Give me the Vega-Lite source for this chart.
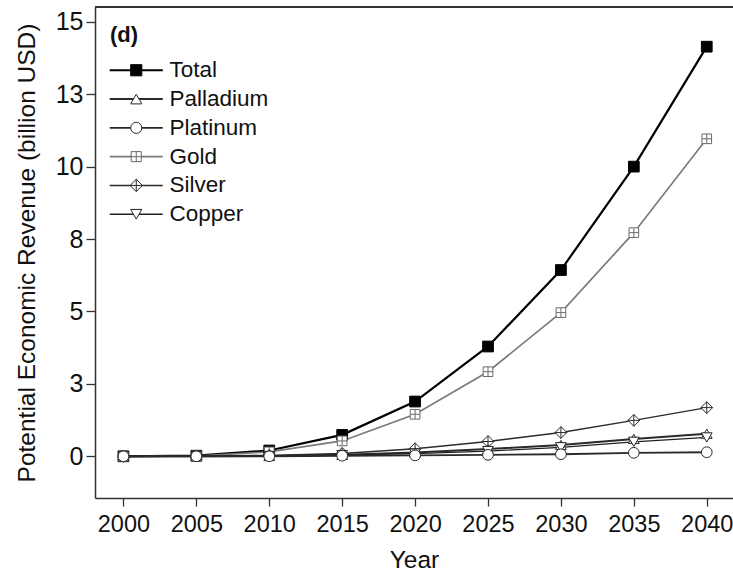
{
  "$schema": "https://vega.github.io/schema/vega-lite/v6.json",
  "width": 638,
  "height": 491,
  "autosize": "none",
  "padding": {"left": 95, "top": 7, "right": 0, "bottom": 78},
  "background": "white",
  "config": {
    "view": {"stroke": null},
    "font": "Liberation Sans",
    "axis": {
      "domainColor": "#333333",
      "domainWidth": 1.5,
      "tickColor": "#333333",
      "tickWidth": 1.3,
      "labelColor": "#111111",
      "titleColor": "#111111",
      "labelFont": "Liberation Sans",
      "titleFont": "Liberation Sans",
      "titleFontWeight": "normal",
      "grid": false
    }
  },
  "data": {
    "values": [
      {"Year": 2000, "Metal": "Total", "Value": 0},
      {"Year": 2005, "Metal": "Total", "Value": 0.02},
      {"Year": 2010, "Metal": "Total", "Value": 0.2},
      {"Year": 2015, "Metal": "Total", "Value": 0.74},
      {"Year": 2020, "Metal": "Total", "Value": 1.89},
      {"Year": 2025, "Metal": "Total", "Value": 3.79},
      {"Year": 2030, "Metal": "Total", "Value": 6.43},
      {"Year": 2035, "Metal": "Total", "Value": 10.0},
      {"Year": 2040, "Metal": "Total", "Value": 14.14},
      {"Year": 2000, "Metal": "Gold", "Value": 0},
      {"Year": 2005, "Metal": "Gold", "Value": 0.01},
      {"Year": 2010, "Metal": "Gold", "Value": 0.15},
      {"Year": 2015, "Metal": "Gold", "Value": 0.53},
      {"Year": 2020, "Metal": "Gold", "Value": 1.45},
      {"Year": 2025, "Metal": "Gold", "Value": 2.92},
      {"Year": 2030, "Metal": "Gold", "Value": 4.96},
      {"Year": 2035, "Metal": "Gold", "Value": 7.72},
      {"Year": 2040, "Metal": "Gold", "Value": 10.96},
      {"Year": 2000, "Metal": "Silver", "Value": 0},
      {"Year": 2005, "Metal": "Silver", "Value": 0.01},
      {"Year": 2010, "Metal": "Silver", "Value": 0.03},
      {"Year": 2015, "Metal": "Silver", "Value": 0.1},
      {"Year": 2020, "Metal": "Silver", "Value": 0.26},
      {"Year": 2025, "Metal": "Silver", "Value": 0.51},
      {"Year": 2030, "Metal": "Silver", "Value": 0.82},
      {"Year": 2035, "Metal": "Silver", "Value": 1.24},
      {"Year": 2040, "Metal": "Silver", "Value": 1.68},
      {"Year": 2000, "Metal": "Palladium", "Value": 0},
      {"Year": 2005, "Metal": "Palladium", "Value": 0},
      {"Year": 2010, "Metal": "Palladium", "Value": 0.01},
      {"Year": 2015, "Metal": "Palladium", "Value": 0.05},
      {"Year": 2020, "Metal": "Palladium", "Value": 0.13},
      {"Year": 2025, "Metal": "Palladium", "Value": 0.25},
      {"Year": 2030, "Metal": "Palladium", "Value": 0.39},
      {"Year": 2035, "Metal": "Palladium", "Value": 0.6},
      {"Year": 2040, "Metal": "Palladium", "Value": 0.78},
      {"Year": 2000, "Metal": "Copper", "Value": 0},
      {"Year": 2005, "Metal": "Copper", "Value": 0},
      {"Year": 2010, "Metal": "Copper", "Value": 0.01},
      {"Year": 2015, "Metal": "Copper", "Value": 0.04},
      {"Year": 2020, "Metal": "Copper", "Value": 0.09},
      {"Year": 2025, "Metal": "Copper", "Value": 0.18},
      {"Year": 2030, "Metal": "Copper", "Value": 0.31},
      {"Year": 2035, "Metal": "Copper", "Value": 0.5},
      {"Year": 2040, "Metal": "Copper", "Value": 0.65},
      {"Year": 2000, "Metal": "Platinum", "Value": 0},
      {"Year": 2005, "Metal": "Platinum", "Value": 0},
      {"Year": 2010, "Metal": "Platinum", "Value": 0},
      {"Year": 2015, "Metal": "Platinum", "Value": 0.02},
      {"Year": 2020, "Metal": "Platinum", "Value": 0.03},
      {"Year": 2025, "Metal": "Platinum", "Value": 0.05},
      {"Year": 2030, "Metal": "Platinum", "Value": 0.07},
      {"Year": 2035, "Metal": "Platinum", "Value": 0.12},
      {"Year": 2040, "Metal": "Platinum", "Value": 0.14}
    ]
  },
  "resolve": {
    "scale": {"color": "independent"},
    "legend": {"color": "independent", "fill": "independent", "shape": "independent", "strokeWidth": "independent"}
  },
  "encoding": {
    "x": {
      "field": "Year",
      "type": "quantitative",
      "scale": {"domain": [1998.05, 2041.8], "nice": false, "zero": false},
      "axis": {
        "title": "Year",
        "values": [2000, 2005, 2010, 2015, 2020, 2025, 2030, 2035, 2040],
        "format": "d",
        "labelFontSize": 23.5,
        "titleFontSize": 24.5,
        "tickSize": 8,
        "labelPadding": 6,
        "titlePadding": 13,
        "labelFlush": false
      }
    },
    "y": {
      "field": "Value",
      "type": "quantitative",
      "scale": {"domain": [-1.44, 15.51], "nice": false, "zero": false},
      "axis": {
        "title": "Potential Economic Revenue (billion USD)",
        "values": [0, 2.5, 5, 7.5, 10, 12.5, 15],
        "labelExpr": "format(round(datum.value), 'd')",
        "labelFontSize": 25,
        "titleFontSize": 24.5,
        "tickSize": 9,
        "labelPadding": 3,
        "titlePadding": 16
      }
    }
  },
  "layer": [
    {
      "mark": {"type": "line"},
      "encoding": {
        "color": {
          "field": "Metal",
          "type": "nominal",
          "scale": {
            "domain": ["Total", "Palladium", "Platinum", "Gold", "Silver", "Copper"],
            "range": ["#000000", "#2a2a2a", "#2a2a2a", "#7a7a7a", "#2a2a2a", "#222222"]
          },
          "legend": {
            "orient": "none",
            "legendX": 15,
            "legendY": 18,
            "title": "(d)",
            "titleFont": "Liberation Sans",
            "titleFontSize": 22,
            "titleFontWeight": "bold",
            "titleColor": "#111111",
            "titlePadding": 12,
            "labelFont": "Liberation Sans",
            "labelFontSize": 22.5,
            "labelColor": "#111111",
            "labelOffset": 22,
            "symbolType": "M-4.42,0H4.42",
            "symbolSize": 144,
            "symbolOffset": 15,
            "rowPadding": 5.8,
            "padding": 0
          }
        },
        "strokeWidth": {
          "field": "Metal",
          "type": "nominal",
          "scale": {
            "domain": ["Total", "Palladium", "Platinum", "Gold", "Silver", "Copper"],
            "range": [2.2, 1.3, 1.3, 1, 1.3, 1.3]
          }
        }
      }
    },
    {
      "mark": {"type": "point", "filled": false, "size": 115, "strokeWidth": 1, "opacity": 1},
      "encoding": {
        "color": {
          "field": "Metal",
          "type": "nominal",
          "scale": {
            "domain": ["Total", "Palladium", "Platinum", "Gold", "Silver", "Copper"],
            "range": ["#000000", "#2a2a2a", "#2a2a2a", "#6a6a6a", "#2a2a2a", "#222222"]
          }
        },
        "fill": {
          "field": "Metal",
          "type": "nominal",
          "scale": {
            "domain": ["Total", "Palladium", "Platinum", "Gold", "Silver", "Copper"],
            "range": ["#000000", "#ffffff", "#ffffff", "#ffffff", "#ffffff", "#ffffff"]
          }
        },
        "shape": {
          "field": "Metal",
          "type": "nominal",
          "scale": {
            "domain": ["Total", "Palladium", "Platinum", "Gold", "Silver", "Copper"],
            "range": [
              "square",
              "triangle-up",
              "circle",
              "M-0.9,-0.9H0.9V0.9H-0.9Z M0,-0.9V0.9 M-0.9,0H0.9",
              "M0,-1.1L1.1,0L0,1.1L-1.1,0Z M0,-1.1V1.1 M-1.1,0H1.1",
              "triangle-down"
            ]
          },
          "legend": {
            "orient": "none",
            "legendX": 15,
            "legendY": 18,
            "title": "(d)",
            "titleFont": "Liberation Sans",
            "titleFontSize": 22,
            "titleFontWeight": "bold",
            "titleOpacity": 0,
            "titlePadding": 12,
            "labelFont": "Liberation Sans",
            "labelFontSize": 22.5,
            "labelOpacity": 0,
            "labelOffset": 22,
            "symbolSize": 125,
            "symbolStrokeWidth": 1,
            "symbolOffset": 15,
            "rowPadding": 5.8,
            "padding": 0
          }
        }
      }
    },
    {
      "mark": {"type": "rule", "color": "#333333", "strokeWidth": 1.5},
      "encoding": {
        "y": {"datum": 15.51},
        "x": {"datum": 1998.05},
        "x2": {"datum": 2041.8}
      }
    }
  ]
}
